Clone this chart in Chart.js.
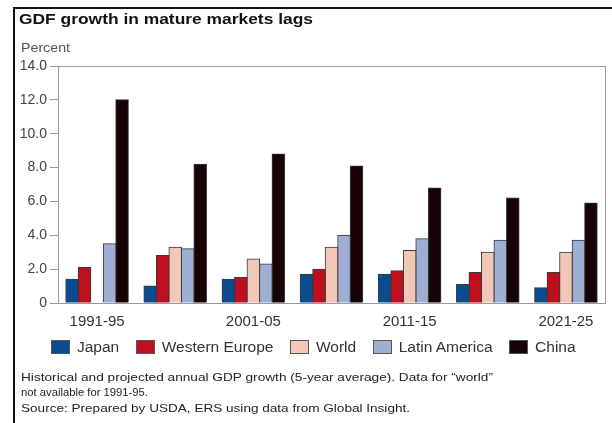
<!DOCTYPE html>
<html>
<head>
<meta charset="utf-8">
<script src="https://cdn.jsdelivr.net/npm/chart.js@4.4.1/dist/chart.umd.min.js"></script>
<style>
  html, body { margin: 0; padding: 0; background: #fff; }
  body { width: 612px; height: 423px; position: relative; overflow: hidden; font-family: "Liberation Sans", Arial, sans-serif; color: #222; }
  #frame { position: absolute; left: 13px; top: 7px; width: 599px; height: 420px; border-left: 2px solid #111; border-top: 2px solid #111; }
  #chart { position: absolute; left: 0; top: 0; }
  .txt { position: absolute; white-space: nowrap; transform-origin: 0 50%; }
  #title { left: 19px; top: 10px; font-size: 15px; line-height: 17px; font-weight: bold; color: #111; }
  #unit { left: 21px; top: 40px; font-size: 12.5px; line-height: 16px; color: #555; }
  #legend { position: absolute; left: 51px; top: 339px; height: 16px; display: flex; align-items: center; gap: 16.5px; font-size: 15.5px; color: #333; }
  #legend .item { display: flex; align-items: center; }
  #legend .box { width: 19px; height: 14px; box-sizing: border-box; border: 1px solid #555; margin-right: 7px; }
  .note { left: 21px; font-size: 11.5px; line-height: 15px; color: #222; }
</style>
</head>
<body>
<div id="frame"></div>
<canvas id="chart" width="612" height="423"></canvas>
<div id="title" class="txt" data-w="294">GDF growth in mature markets lags</div>
<div id="unit" class="txt" data-w="49">Percent</div>
<div id="legend"></div>
<div class="txt note" style="top:369.5px" data-w="472">Historical and projected annual GDP growth (5-year average). Data for “world”</div>
<div class="txt note" style="top:385px" data-w="127">not available for 1991-95.</div>
<div class="txt note" style="top:400.5px" data-w="389">Source: Prepared by USDA, ERS using data from Global Insight.</div>
<script>
// data
var periods = ["1991-95", "1996-00", "2001-05", "2006-10", "2011-15", "2016-20", "2021-25"];
var seriesNames = ["Japan", "Western Europe", "World", "Latin America", "China"];
var japan = [1.4, 1.0, 1.4, 1.7, 1.7, 1.1, 0.9];
var westernEurope = [2.1, 2.8, 1.5, 2.0, 1.9, 1.8, 1.8];
var world = [null, 3.3, 2.6, 3.3, 3.1, 3.0, 3.0];
var latinAmerica = [3.5, 3.2, 2.3, 4.0, 3.8, 3.7, 3.7];
var china = [12.0, 8.2, 8.8, 8.1, 6.8, 6.2, 5.9];
var yTicks = [0, 2, 4, 6, 8, 10, 12, 14];

var colors = ["#0b4c8e", "#be0f1f", "#f1c7b7", "#9eafd3", "#170306"];
var values = [japan, westernEurope, world, latinAmerica, china];

var Page = {

	init: function(){
		Chart.defaults.font.family = "'Liberation Sans', Arial, sans-serif";
		Page.buildLegend();
		Page.fitTexts();
		Page.generateBarGraph();
	},

	buildLegend: function(){
		var legend = document.getElementById("legend");
		seriesNames.forEach(function(name, i){
			var item = document.createElement("div");
			item.className = "item";
			item.innerHTML = '<span class="box" style="background:' + colors[i] + '"></span><span>' + name + '</span>';
			legend.appendChild(item);
		});
	},

	// the reference text is a little wider than the fonts here, stretch to fit
	fitTexts: function(){
		document.querySelectorAll(".txt[data-w]").forEach(function(el){
			var w = el.getBoundingClientRect().width;
			var target = parseFloat(el.getAttribute("data-w"));
			el.style.transform = "scaleX(" + (target / w) + ")";
		});
	},

	generateBarGraph: function(){
		var datasets = seriesNames.map(function(name, i){
			return {
				label: name,
				data: values[i],
				backgroundColor: colors[i],
				borderColor: "#3a3a3a",
				borderWidth: 1,
				inflateAmount: 0.5,
				categoryPercentage: 0.8,
				barPercentage: 1.0
			};
		});

		var plotBox = {
			id: "plotBox",
			afterDraw: function(chart){
				var a = chart.chartArea, ctx = chart.ctx;
				ctx.save();
				ctx.strokeStyle = "#9a9a9a";
				ctx.lineWidth = 1;
				ctx.strokeRect(Math.round(a.left) + 0.5, Math.round(a.top) + 0.5, Math.round(a.right - a.left), Math.round(a.bottom - a.top));
				ctx.restore();
			}
		};

		var ctx = document.getElementById("chart").getContext("2d");
		window.myBar = new Chart(ctx, {
			type: "bar",
			data: { labels: periods, datasets: datasets },
			plugins: [plotBox],
			options: {
				responsive: false,
				animation: false,
				devicePixelRatio: 1,
				layout: { padding: { left: 0, right: 7, top: 66, bottom: 90 } },
				plugins: {
					legend: { display: false },
					tooltip: { enabled: false },
					title: { display: false }
				},
				scales: {
					x: {
						grid: { display: true, drawOnChartArea: false, drawTicks: false },
						border: { color: "#9a9a9a" },
						ticks: {
							autoSkip: false,
							maxRotation: 0,
							padding: 10,
							color: "#333",
							font: { size: 15 },
							callback: function(v, i){ return i % 2 === 0 ? periods[i] : ""; }
						},
						afterFit: function(scale){ scale.height = 30; }
					},
					y: {
						min: 0,
						max: 14,
						afterBuildTicks: function(scale){
							scale.ticks = yTicks.map(function(v){ return { value: v }; });
						},
						grid: { drawOnChartArea: false, drawTicks: true, tickLength: 8, color: "#9a9a9a" },
						border: { color: "#9a9a9a" },
						ticks: {
							padding: 3,
							color: "#444",
							font: { size: 14 },
							callback: function(v){ return v === 0 ? "0" : v.toFixed(1); }
						},
						afterFit: function(scale){ scale.width = 58; }
					}
				}
			}
		});
	}
};

Page.init();
</script>
</body>
</html>
